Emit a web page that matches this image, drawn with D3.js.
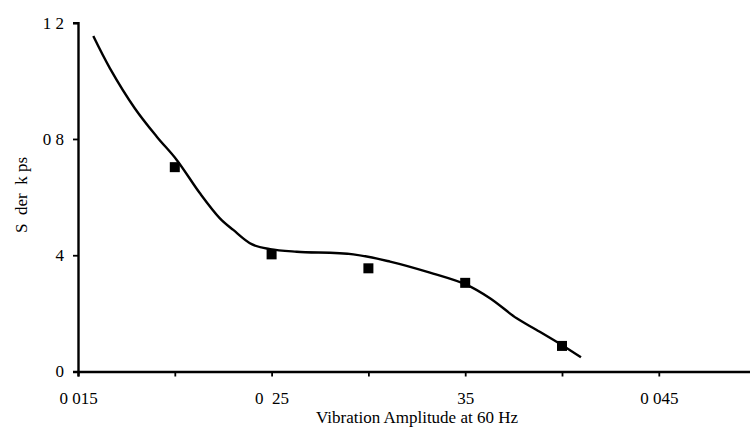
<!DOCTYPE html>
<html><head><meta charset="utf-8">
<script src="https://cdn.jsdelivr.net/npm/d3@7/dist/d3.min.js"></script>
<style>
html,body{margin:0;padding:0;background:#fff;}
text{font-family:"Liberation Serif","Times New Roman",serif;fill:#000;}
</style></head>
<body><svg id="c" width="750" height="440"></svg>
<script>
// Data
const curveX = [0.01579,0.01665,0.01794,0.01907,0.0201,0.0213,0.02233,0.02302,0.02397,0.02492,0.0263,0.02922,0.03112,0.03318,0.03508,0.03628,0.03766,0.03869,0.04007,0.04098];
const curveY = [1.154,1.043,0.905,0.808,0.728,0.613,0.527,0.487,0.438,0.421,0.412,0.403,0.378,0.340,0.298,0.252,0.183,0.143,0.088,0.049];
const pointX = [0.020,0.025,0.030,0.035,0.040];
const pointY = [0.703,0.403,0.355,0.305,0.088];
const xTicks = [0.015,0.020,0.025,0.030,0.035,0.040,0.045,0.050];
const xTickLabels = {"0.015":"0 015","0.025":"0  25","0.035":"35","0.045":"0 045"};
const yTicks = [0,0.4,0.8,1.2];
const yTickLabels = ["0","4","0 8","1 2"];
const xTitle = "Vibration Amplitude at 60 Hz";
const yTitle = "S  der  k ps";

const svg = d3.select("#c");
const x = d3.scaleLinear().domain([0.015,0.05]).range([78,755.6]);
const y = d3.scaleLinear().domain([0,1.2]).range([371.5,22.7]);

// X axis
const xa = svg.append("g").attr("transform",`translate(0,${y(0)})`)
  .call(d3.axisBottom(x).tickValues(xTicks).tickSizeOuter(0).tickSize(5)
    .tickFormat(d=>xTickLabels[d.toFixed(3)]||""));
xa.select(".domain").attr("stroke-width",2.4);
xa.selectAll(".tick line").attr("stroke-width",1.8);
xa.selectAll(".tick text").attr("font-size",17).attr("dy",0).attr("y",32)
  .style("white-space","pre").attr("font-family","Liberation Serif");

// Y axis
const ya = svg.append("g").attr("transform",`translate(${x(0.015)},0)`)
  .call(d3.axisLeft(y).tickValues(yTicks).tickSizeOuter(0).tickSize(5)
    .tickFormat((d,i)=>yTickLabels[i]));
ya.select(".domain").attr("stroke-width",2.4);
ya.selectAll(".tick line").attr("stroke-width",1.8);
ya.selectAll(".tick text").attr("font-size",17).attr("x",-14)
  .style("white-space","pre").attr("font-family","Liberation Serif");

// Curve
const pts = curveX.map((v,i)=>[v,curveY[i]]);
svg.append("path").datum(pts)
  .attr("fill","none").attr("stroke","#000").attr("stroke-width",2.4)
  .attr("d",d3.line().x(d=>x(d[0])).y(d=>y(d[1])).curve(d3.curveCatmullRom));

// Markers
svg.selectAll("rect.m").data(pointX.map((v,i)=>[v,pointY[i]])).enter()
  .append("rect").attr("class","m")
  .attr("x",d=>x(d[0])-5).attr("y",d=>y(d[1])-5)
  .attr("width",10).attr("height",10).attr("fill","#000");

// Titles
svg.append("text").attr("x",417).attr("y",423).attr("text-anchor","middle")
  .attr("font-size",17).text(xTitle);
svg.append("text").attr("transform","translate(27,195) rotate(-90)")
  .attr("text-anchor","middle").attr("font-size",17)
  .style("white-space","pre").text(yTitle);
</script></body></html>
